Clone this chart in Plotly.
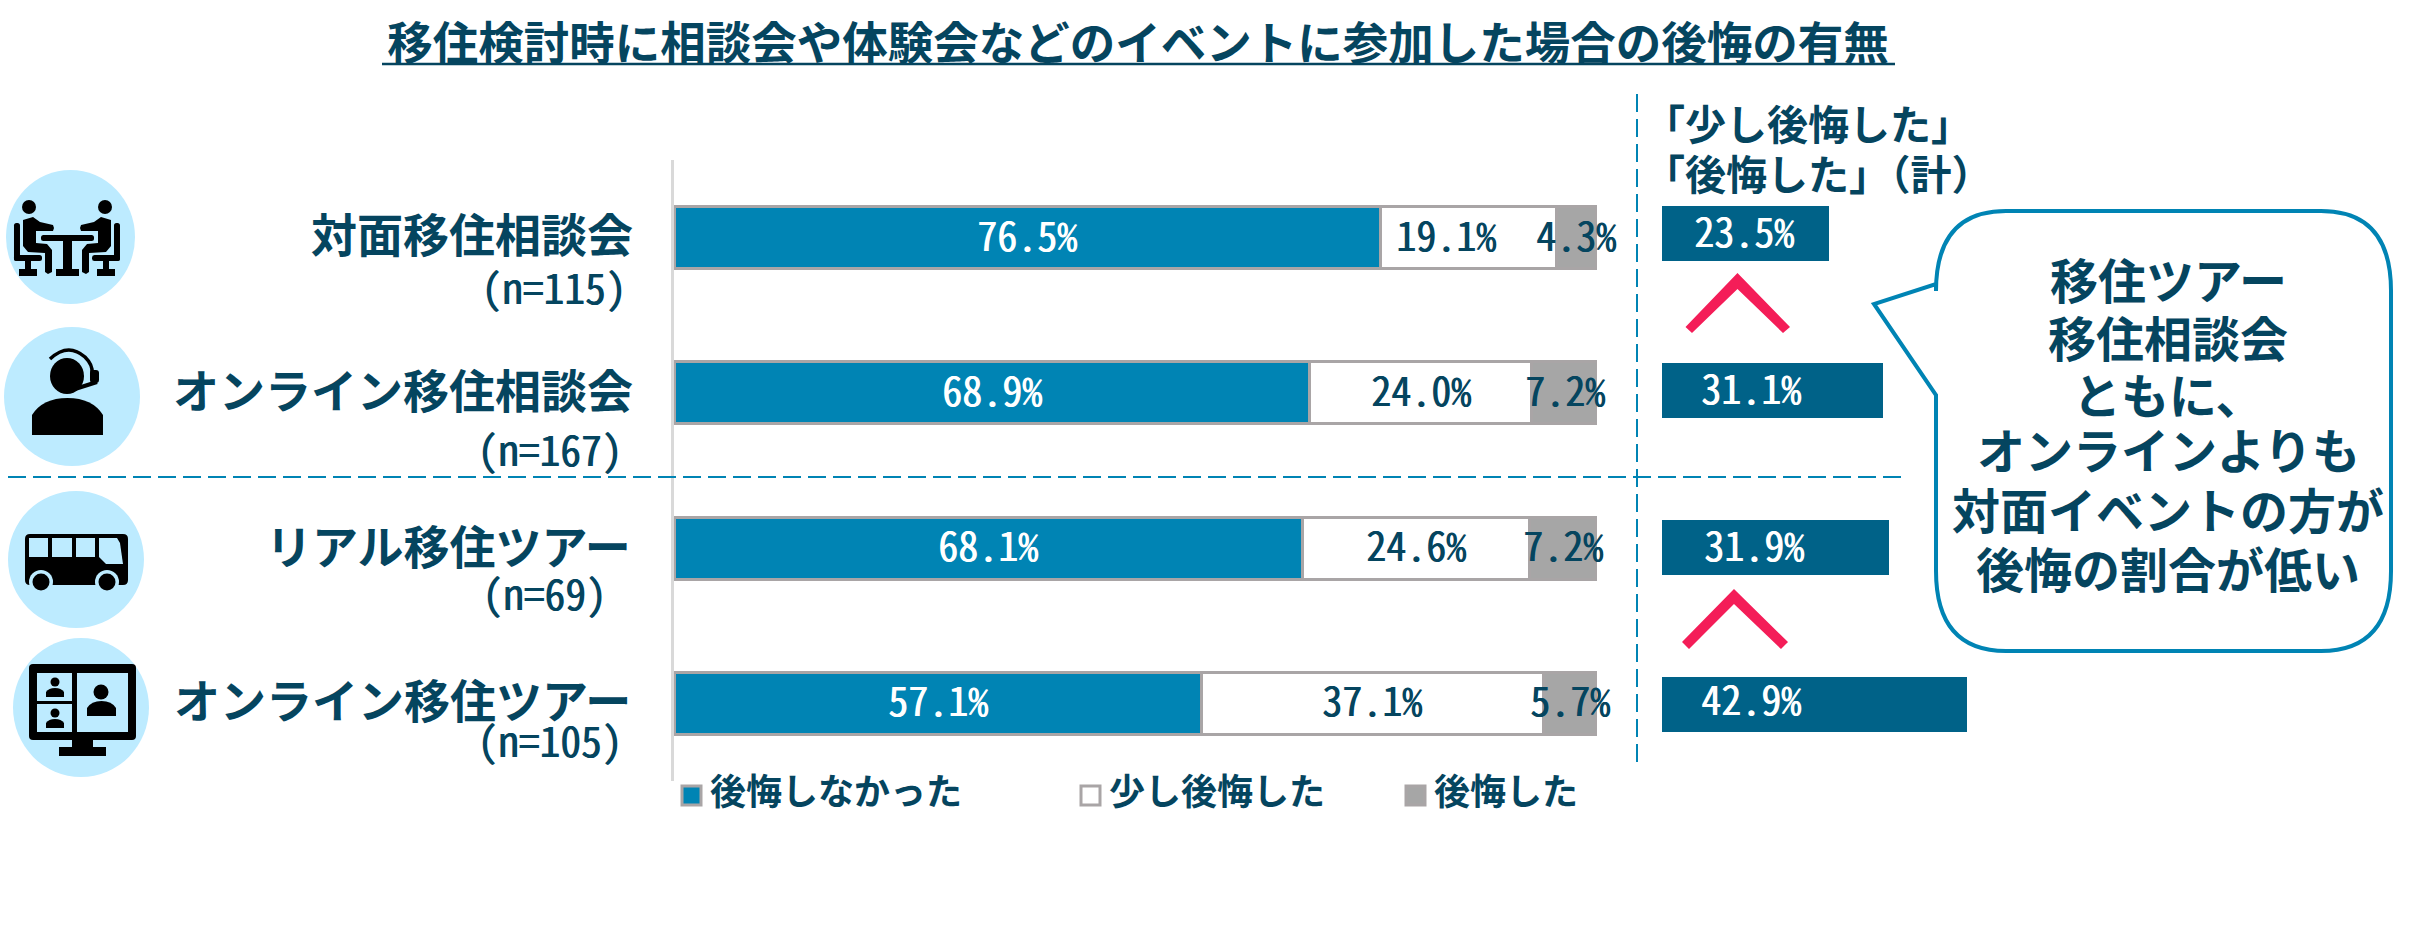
import plotly.graph_objects as go

# chart values
categories = ['対面移住相談会', 'オンライン移住相談会', 'リアル移住ツアー', 'オンライン移住ツアー']
sample_sizes = ['(n=115)', '(n=167)', '(n=69)', '(n=105)']
no_regret = [76.5, 68.9, 68.1, 57.1]
some_regret = [19.1, 24.0, 24.6, 37.1]
regret = [4.3, 7.2, 7.2, 5.7]
regret_total = [23.5, 31.1, 31.9, 42.9]
series_names = ['後悔しなかった', '少し後悔した', '後悔した']
callout_lines = ['移住ツアー', '移住相談会', 'ともに、', 'オンラインよりも', '対面イベントの方が', '後悔の割合が低い']

W, H = 2429, 929
JP = 'Noto Sans CJK JP'
MONO = 'Noto Sans Mono CJK JP, Noto Sans CJK JP, DejaVu Sans Mono'
NAVY = '#05455F'
BLUE = '#0084B4'
DARK = '#006288'
GRAY = '#A6A6A6'
EDGE = '#A9A5A6'
PALE = '#BDEBFF'
RED = '#F41D58'


def fx(px):
    return px / W


def fy(py):
    return 1 - py / H


def pt(x, y):
    return f'{fx(x):.5f},{fy(y):.5f}'


def path(d, color='#000000'):
    return dict(type='path', path=d, xref='paper', yref='paper', fillcolor=color, line_width=0)


def poly(points, color='#000000'):
    return path('M' + ' L'.join(pt(x, y) for x, y in points) + ' Z', color)


def box(x0, y0, x1, y1, color='#000000'):
    return poly([(x0, y0), (x1, y0), (x1, y1), (x0, y1)], color)


def rounded(x0, y0, x1, y1, r, color='#000000'):
    return path(f'M{pt(x0, y0 + r)} Q{pt(x0, y0)} {pt(x0 + r, y0)} L{pt(x1 - r, y0)} Q{pt(x1, y0)} {pt(x1, y0 + r)} '
                f'L{pt(x1, y1 - r)} Q{pt(x1, y1)} {pt(x1 - r, y1)} L{pt(x0 + r, y1)} Q{pt(x0, y1)} {pt(x0, y1 - r)} Z',
                color)


def dome(x0, x1, top, shoulder, bottom, color='#000000'):
    mid = (x0 + x1) / 2
    return path(f'M{pt(x0, bottom)} L{pt(x0, shoulder)} Q{pt(x0 + (x1 - x0) * 0.15, top)} {pt(mid, top)} '
                f'Q{pt(x1 - (x1 - x0) * 0.15, top)} {pt(x1, shoulder)} L{pt(x1, bottom)} Z', color)


def oval(x0, y0, x1, y1, color='#000000'):
    return dict(type='circle', xref='paper', yref='paper', x0=fx(x0), x1=fx(x1), y0=fy(y0), y1=fy(y1),
                fillcolor=color, line_width=0)


def stroke(d, width):
    return dict(type='path', path=d, xref='paper', yref='paper', line=dict(color='#000000', width=width))


def num_font(size, color):
    # the mono face has no medium weight, a thin shadow thickens the regular one
    return dict(family=MONO, size=size, color=color, weight=400, shadow=f'0.7px 0 0 {color}')


def note(text, x, y, size, color=NAVY, anchor='center', font=None):
    return dict(text=text, xref='paper', yref='paper', x=fx(x), y=fy(y), xanchor=anchor, yanchor='middle',
                showarrow=False, font=font or dict(family=JP, size=size, color=color, weight=700))


fig = go.Figure()

# stacked bars
for name, values, color in zip(series_names, [no_regret, some_regret, regret], [BLUE, '#FFFFFF', GRAY]):
    fig.add_trace(go.Bar(y=categories, x=values, name=name, orientation='h', width=0.4, cliponaxis=False,
                         marker=dict(color=color, line=dict(color=EDGE, width=3))))

# total bars on the right
fig.add_trace(go.Bar(y=categories, x=regret_total, orientation='h', width=0.35, xaxis='x2', yaxis='y2',
                     marker=dict(color=DARK, line_width=0), showlegend=False))

shapes = []
annotations = []

# data labels, all placed by hand in the original
for i, cat in enumerate(categories):
    a, b, c = no_regret[i], some_regret[i], regret[i]
    for x, v, color, shift in [(a / 2, a, '#FFFFFF', 0), (a + b / 2, b, NAVY, -22 if i == 0 else 0),
                               (a + b + c / 2, c, NAVY, 0)]:
        annotations.append(dict(text=f'{v:.1f}%', x=x, y=cat, xref='x', yref='y', showarrow=False,
                                xshift=shift, yshift=4, font=num_font(40, color)))

total_label_x = [1744, 1751, 1754, 1751]
total_label_y = [230, 387, 544, 698]
for v, x, y in zip(regret_total, total_label_x, total_label_y):
    annotations.append(note(f'{v:.1f}%', x, y, 40, font=num_font(40, '#FFFFFF')))

# category labels
cat_right = [635, 635, 633, 633]
cat_y = [232, 388, 544, 698]
n_right = [628, 624, 609, 624]
n_y = [286, 448, 592, 739]
for i, cat in enumerate(categories):
    annotations.append(note(cat, cat_right[i], cat_y[i], 46, anchor='right'))
    annotations.append(note(sample_sizes[i], n_right[i], n_y[i], 41.5, anchor='right', font=num_font(41.5, NAVY)))

# legend drawn by hand
legend_x = [681, 1080, 1405]
for name, x, color in zip(series_names, legend_x, [BLUE, '#FFFFFF', GRAY]):
    shapes.append(dict(type='rect', xref='paper', yref='paper', x0=fx(x + 1), x1=fx(x + 20), y0=fy(786), y1=fy(805),
                       fillcolor=color, line=dict(color=EDGE, width=3)))
    annotations.append(note(name, x + 27, 789, 36, anchor='left'))

# header above the right bars
annotations.append(note('「少し後悔した」', 1642, 122, 41, anchor='left'))
annotations.append(note('「後悔した」（計）', 1642, 172, 41, anchor='left'))

# dashed guide lines
shapes.append(dict(type='line', xref='paper', yref='paper', x0=fx(8), x1=fx(1905), y0=fy(477), y1=fy(477),
                   line=dict(color=BLUE, width=2, dash='18px,7px')))
shapes.append(dict(type='line', xref='paper', yref='paper', x0=fx(1637), x1=fx(1637), y0=fy(94), y1=fy(768),
                   line=dict(color=BLUE, width=2, dash='18px,7px')))

# title underline
shapes.append(dict(type='line', xref='paper', yref='paper', x0=fx(382), x1=fx(1895), y0=fy(64), y1=fy(64),
                   line=dict(color=NAVY, width=2.5)))

# red "less than" marks
shapes.append(poly([(1737.5, 273), (1685.5, 327), (1692, 333), (1737.5, 289), (1783, 333), (1790, 327)], RED))
shapes.append(poly([(1734, 589), (1682, 642), (1689, 649), (1734, 604), (1781, 649), (1788, 642)], RED))

# callout bubble
L, R, T, B = 1936, 2391, 211, 651
rx, ry = 70, 80
bubble = (f'M{pt(L, T + ry)} Q{pt(L, T)} {pt(L + rx, T)} L{pt(R - rx, T)} Q{pt(R, T)} {pt(R, T + ry)} '
          f'L{pt(R, B - ry)} Q{pt(R, B)} {pt(R - rx, B)} L{pt(L + rx, B)} Q{pt(L, B)} {pt(L, B - ry)} '
          f'L{pt(L, 395)} L{pt(1874, 304)} L{pt(L, 284)} Z')
shapes.append(dict(type='path', path=bubble, xref='paper', yref='paper', fillcolor='#FFFFFF',
                   line=dict(color=BLUE, width=4)))
callout_y = [278, 336, 393, 448, 508, 567]
for line, y in zip(callout_lines, callout_y):
    annotations.append(note(line, 2168, y, 48))

# icon backgrounds
shapes += [oval(6, 170, 135, 304, PALE), oval(4, 327, 140, 466, PALE),
           oval(8, 491, 144, 628, PALE), oval(13, 638, 149, 777, PALE)]

# icon 1: two people at a table
shapes += [rounded(41, 235, 94, 241, 2.5), box(63, 241, 72, 269), box(56, 269, 79, 276)]
for s in (lambda x: x, lambda x: 134 - x):
    shapes.append(oval(min(s(22), s(36)), 200, max(s(22), s(36)), 214))
    shapes.append(rounded(min(s(14), s(20)), 223, max(s(14), s(20)), 261, 2.5))
    shapes.append(rounded(min(s(14), s(42)), 255, max(s(14), s(42)), 261, 2.5))
    shapes.append(box(min(s(25), s(31)), 261, max(s(25), s(31)), 269))
    shapes.append(box(min(s(19), s(37)), 269, max(s(19), s(37)), 276))
    shapes.append(poly([(s(23), 220), (s(33), 217), (s(40), 222), (s(53), 225), (s(54), 228), (s(53), 231), (s(36), 231),
                        (s(36), 243), (s(47), 244), (s(52), 250), (s(52), 272), (s(48), 274), (s(45), 272), (s(45), 253),
                        (s(28), 252), (s(23), 246)]))

# icon 2: operator with headset
shapes.append(oval(50, 358, 84, 394))
shapes.append(dome(32, 103, 398, 415, 435))
shapes.append(stroke(f'M{pt(50, 359)} Q{pt(68, 342)} {pt(85, 357)} Q{pt(93, 365)} {pt(92, 373)}', 3.5))
shapes.append(rounded(90, 370, 99, 383, 3))
shapes.append(stroke(f'M{pt(97, 382)} L{pt(75, 389)}', 4))

# icon 3: bus
shapes.append(rounded(25, 534, 128, 585, 5))
shapes += [box(29, 538, 48, 557, PALE), box(52, 538, 72, 557, PALE), box(76, 538, 95, 557, PALE)]
shapes.append(poly([(99, 538), (117, 538), (120, 543), (123, 564), (106, 564), (99, 557)], PALE))
for cx in (41, 107):
    shapes.append(oval(cx - 12, 570, cx + 12, 594, PALE))
    shapes.append(oval(cx - 8.5, 573.5, cx + 8.5, 590.5))

# icon 4: monitor with video call
shapes.append(rounded(29, 664, 136, 740, 4))
shapes += [box(37, 673, 72, 701, PALE), box(37, 704, 72, 732, PALE), box(77, 673, 128, 732, PALE)]
shapes += [box(72, 740, 93, 747), box(59, 747, 106, 756)]
for cy in (682, 713):
    shapes.append(oval(50.5, cy - 4.5, 59.5, cy + 4.5))
    shapes.append(dome(46, 64, cy + 6, cy + 10, cy + 15))
shapes.append(oval(93.5, 684.5, 108.5, 699.5))
shapes.append(dome(87, 116, 701, 708, 716))

fig.update_layout(
    width=W,
    height=H,
    barmode='stack',
    showlegend=False,
    paper_bgcolor='#FFFFFF',
    plot_bgcolor='#FFFFFF',
    margin=dict(l=0, r=0, t=0, b=0),
    bargap=0.6,
    title=dict(text='移住検討時に相談会や体験会などのイベントに参加した場合の後悔の有無', x=fx(1138), y=fy(44),
               xanchor='center', yanchor='middle',
               font=dict(family=JP, size=45.5, color=NAVY, weight=700)),
    xaxis=dict(domain=[fx(674), fx(1597)], range=[0, 100], visible=False),
    yaxis=dict(domain=[fy(781), fy(160)], autorange='reversed', showline=True, linecolor='#D9D9D9', linewidth=3,
               showticklabels=False, ticks='', showgrid=False, zeroline=False),
    xaxis2=dict(domain=[fx(1661.5), fx(2017.5)], range=[0, 50], visible=False, anchor='y2'),
    yaxis2=dict(domain=[fy(783), fy(155)], autorange='reversed', visible=False, anchor='x2'),
    shapes=shapes,
    annotations=annotations,
)

# the page has a default body margin that would push the figure off by 8px
fig.write_html('out.html', config={'displayModeBar': False}, post_script="document.body.style.margin = '0';")
